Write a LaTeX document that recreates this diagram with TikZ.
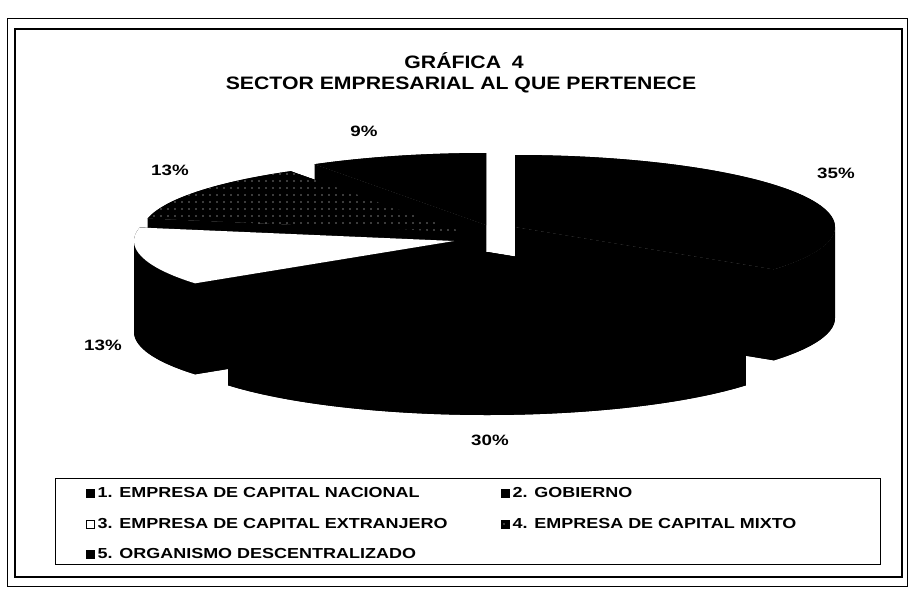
\documentclass[tikz,border=0pt]{standalone}
\usepackage{fontspec}
\usepackage{graphicx}
\setmainfont{Liberation Sans}
\usetikzlibrary{positioning,patterns.meta}

\newcommand{\widen}[2]{\scalebox{#1}[1]{#2}}
\tikzset{
  ttl/.style={font=\fontsize{18}{20}\selectfont\bfseries, inner sep=0pt},
  pct/.style={font=\fontsize{15}{17}\selectfont\bfseries, inner sep=0pt},
  leg/.style={font=\fontsize{14.5}{16}\selectfont\bfseries, anchor=west, inner sep=0pt},
  legbox/.style={draw=black, line width=1pt, minimum size=8pt, inner sep=0pt},
  speck/.style={pattern={Dots[distance=7pt,radius=.6pt]}, pattern color=white},
}

% body of one slice: centre x, centre y (image rows), start, end,
% then the front part of the rim that shows a wall
\newcommand{\slicebody}[6]{%
  \fill[black] (#1,-#2) -- ++(#3:320 and 72) arc[start angle=#3,end angle=#4,x radius=320,y radius=72] -- cycle;
  \fill[black] (#1,-#2-91) -- ++(#3:320 and 72) arc[start angle=#3,end angle=#4,x radius=320,y radius=72] -- cycle;
  \fill[black] (#1,-#2) ++(#5:320 and 72) arc[start angle=#5,end angle=#6,x radius=320,y radius=72]
    -- ++(0,-91) arc[start angle=#6,end angle=#5,x radius=320,y radius=72] -- cycle;
  \fill[black] (#1,-#2) -- ++(#3:320 and 72) -- ++(0,-91) -- (#1,-#2-91) -- cycle;
  \fill[black] (#1,-#2) -- ++(#4:320 and 72) -- ++(0,-91) -- (#1,-#2-91) -- cycle;
}
% top face of one slice
\newcommand{\slicetop}[5]{%
  \fill[#5] (#1,-#2) -- ++(#3:320 and 72) arc[start angle=#3,end angle=#4,x radius=320,y radius=72] -- cycle;
}

\begin{document}
\begin{tikzpicture}[x=1pt,y=1pt]
\useasboundingbox (0,0) rectangle (910,-594);

% frame
\draw[line width=.8pt] (7,-18) rectangle (907,-586);
\draw[line width=2pt] (15,-29) rectangle (902,-577);

% title
\node[ttl] (g4) at (464,-61) {\widen{1.18}{GRÁFICA\enspace 4}};
\node[ttl] (sec) at (461,-85) {\widen{1.18}{SECTOR EMPRESARIAL AL QUE PERTENECE}};

% slices, back to front
\slicebody{486}{225}{90}{122.4}{90}{90}
\slicetop{486}{225}{90}{122.4}{black}
\slicebody{462}{232}{122.4}{169.2}{150}{150}
\slicetop{462}{232}{122.4}{169.2}{black}
\slicetop{462}{232}{122.4}{169.2}{speck}
\slicebody{515}{227}{-36}{90}{-36}{0}
\slicetop{515}{227}{-36}{90}{black}
\slicebody{454}{241}{169.2}{216}{180}{216}
\slicetop{454}{241}{169.2}{216}{white}
\slicebody{487}{252}{216}{324}{216}{324}
\slicetop{487}{252}{216}{324}{black}

% percentages
\node[pct] (p9) at (364,-131) {\widen{1.25}{9\%}};
\node[pct] (p35) at (836,-173) {\widen{1.25}{35\%}};
\node[pct] (p13a) at (170,-170) {\widen{1.25}{13\%}};
\node[pct] (p13b) at (103,-345) {\widen{1.25}{13\%}};
\node[pct] (p30) at (490,-440) {\widen{1.25}{30\%}};

% legend
\draw[line width=1pt] (55,-478) rectangle (880,-564);
\node[legbox, fill=black] (k1) at (90,-493) {};
\node[leg, right=3pt of k1] (l1) {\widen{1.24}{1. EMPRESA DE CAPITAL NACIONAL}};
\node[legbox, fill=black] (k2) at (505,-493) {};
\node[leg, right=3pt of k2] (l2) {\widen{1.24}{2. GOBIERNO}};
\node[legbox, fill=white] (k3) at (90,-524) {};
\node[leg, right=3pt of k3] (l3) {\widen{1.24}{3. EMPRESA DE CAPITAL EXTRANJERO}};
\node[legbox, fill=black] (k4) at (505,-524) {};
\node[legbox, speck] (k4s) at (505,-524) {};
\node[leg, right=3pt of k4] (l4) {\widen{1.24}{4. EMPRESA DE CAPITAL MIXTO}};
\node[legbox, fill=black] (k5) at (90,-554) {};
\node[leg, right=3pt of k5] (l5) {\widen{1.24}{5. ORGANISMO DESCENTRALIZADO}};
\end{tikzpicture}
\end{document}
